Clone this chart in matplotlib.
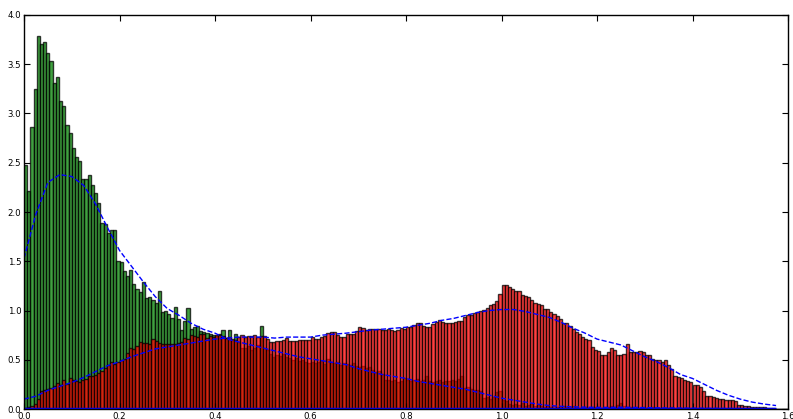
import numpy as np
import matplotlib
matplotlib.use("Agg")
import matplotlib.pyplot as plt

# histogram heights (density), 240 equal bins on [0, 1.6]
green_density = [
    2.48, 2.21, 2.86, 3.25, 3.79, 3.71, 3.73, 3.61, 3.53, 3.31,
    3.37, 3.13, 3.08, 2.88, 2.80, 2.65, 2.56, 2.52, 2.33, 2.34,
    2.38, 2.27, 2.19, 2.09, 1.89, 1.88, 1.79, 1.82, 1.82, 1.50,
    1.49, 1.40, 1.35, 1.41, 1.27, 1.22, 1.19, 1.29, 1.13, 1.14,
    1.11, 1.08, 1.20, 0.98, 0.99, 0.96, 0.92, 1.04, 0.91, 0.80,
    0.89, 1.03, 0.81, 0.83, 0.84, 0.79, 0.78, 0.77, 0.76, 0.75,
    0.74, 0.76, 0.80, 0.72, 0.80, 0.70, 0.76, 0.68, 0.62, 0.62,
    0.64, 0.60, 0.62, 0.65, 0.84, 0.62, 0.60, 0.56, 0.53, 0.55,
    0.54, 0.56, 0.53, 0.52, 0.50, 0.52, 0.49, 0.50, 0.48, 0.47,
    0.48, 0.47, 0.48, 0.49, 0.46, 0.51, 0.48, 0.47, 0.48, 0.45,
    0.47, 0.46, 0.45, 0.47, 0.44, 0.43, 0.44, 0.42, 0.43, 0.40,
    0.38, 0.39, 0.36, 0.29, 0.29, 0.28, 0.29, 0.27, 0.28, 0.31,
    0.29, 0.28, 0.29, 0.30, 0.28, 0.29, 0.33, 0.28, 0.27, 0.28,
    0.29, 0.27, 0.28, 0.28, 0.29, 0.28, 0.30, 0.33, 0.21, 0.22,
    0.20, 0.19, 0.19, 0.18, 0.11, 0.12, 0.10, 0.12, 0.17, 0.18,
    0.09, 0.08, 0.05, 0.04, 0.05, 0.04, 0.06, 0.03, 0.04, 0.05,
    0.03, 0.04, 0.03, 0.02, 0.03, 0.02, 0.03, 0.02, 0.02, 0.03,
    0.02, 0.02, 0.03, 0.02, 0.01, 0.02, 0.02, 0.01, 0.02, 0.02,
    0.02, 0.01, 0.02, 0.02, 0.03, 0.02, 0.04, 0.06, 0.03, 0.02,
    0.02, 0.01, 0.02, 0.01, 0.02, 0.01, 0.01, 0.02, 0.01, 0.01,
    0.01, 0.01, 0.01, 0.02, 0.01, 0.01, 0.01, 0.01, 0.00, 0.01,
    0.01, 0.00, 0.01, 0.00, 0.01, 0.00, 0.00, 0.01, 0.00, 0.00,
    0.00, 0.00, 0.00, 0.00, 0.00, 0.00, 0.00, 0.00, 0.00, 0.00,
    0.00, 0.00, 0.00, 0.00, 0.00, 0.00, 0.00, 0.00, 0.00, 0.00,
]

red_density = [
    0.01, 0.02, 0.03, 0.05, 0.10, 0.18, 0.19, 0.20, 0.21, 0.23,
    0.26, 0.24, 0.29, 0.25, 0.31, 0.29, 0.28, 0.27, 0.29, 0.30,
    0.33, 0.33, 0.35, 0.37, 0.39, 0.42, 0.45, 0.48, 0.46, 0.48,
    0.50, 0.51, 0.57, 0.62, 0.61, 0.64, 0.68, 0.67, 0.67, 0.66,
    0.71, 0.69, 0.67, 0.66, 0.66, 0.66, 0.66, 0.66, 0.67, 0.68,
    0.72, 0.71, 0.75, 0.74, 0.73, 0.76, 0.76, 0.72, 0.74, 0.73,
    0.75, 0.75, 0.74, 0.72, 0.73, 0.71, 0.70, 0.73, 0.75, 0.73,
    0.74, 0.74, 0.75, 0.73, 0.74, 0.74, 0.71, 0.68, 0.68, 0.69,
    0.69, 0.70, 0.72, 0.69, 0.69, 0.69, 0.70, 0.70, 0.70, 0.70,
    0.73, 0.71, 0.71, 0.73, 0.74, 0.77, 0.78, 0.78, 0.75, 0.73,
    0.73, 0.76, 0.76, 0.76, 0.79, 0.83, 0.82, 0.80, 0.81, 0.81,
    0.81, 0.81, 0.80, 0.80, 0.81, 0.80, 0.79, 0.80, 0.82, 0.81,
    0.83, 0.83, 0.85, 0.87, 0.87, 0.84, 0.83, 0.83, 0.86, 0.88,
    0.90, 0.88, 0.87, 0.87, 0.87, 0.88, 0.89, 0.89, 0.93, 0.95,
    0.95, 0.97, 0.98, 0.99, 1.01, 1.03, 1.06, 1.07, 1.10, 1.17,
    1.26, 1.26, 1.24, 1.22, 1.20, 1.20, 1.16, 1.15, 1.14, 1.11,
    1.08, 1.07, 1.06, 1.02, 1.02, 0.98, 0.96, 0.94, 0.91, 0.87,
    0.87, 0.84, 0.81, 0.785, 0.76, 0.73, 0.71, 0.70, 0.63, 0.60,
    0.59, 0.55, 0.55, 0.58, 0.62, 0.60, 0.55, 0.55, 0.56, 0.66,
    0.58, 0.58, 0.58, 0.59, 0.58, 0.55, 0.55, 0.51, 0.50, 0.50,
    0.48, 0.50, 0.45, 0.41, 0.33, 0.32, 0.31, 0.29, 0.28, 0.27,
    0.24, 0.24, 0.22, 0.18, 0.13, 0.13, 0.12, 0.11, 0.10, 0.10,
    0.09, 0.09, 0.09, 0.085, 0.04, 0.04, 0.03, 0.03, 0.025, 0.025,
    0.02, 0.02, 0.02, 0.015, 0.015, 0.01, 0.00, 0.00, 0.00, 0.00,
]

# smoothed density estimates, sampled every 0.025
kde_x = [round(0.025 * k, 3) for k in range(64)]
green_kde = [
    1.53, 1.98, 2.30, 2.38, 2.36, 2.27, 2.08, 1.84, 1.61, 1.45,
    1.29, 1.14, 1.02, 0.95, 0.87, 0.81, 0.77, 0.71, 0.68, 0.65,
    0.62, 0.59, 0.56, 0.53, 0.51, 0.49, 0.47, 0.45, 0.41, 0.38,
    0.35, 0.33, 0.31, 0.28, 0.26, 0.24, 0.22, 0.20, 0.17, 0.14,
    0.11, 0.09, 0.07, 0.05, 0.035, 0.027, 0.022, 0.018, 0.016, 0.016,
    0.018, 0.016, 0.014, 0.012, 0.010, 0.009, 0.008, 0.007, 0.006, 0.005,
    0.004, 0.003, 0.002, 0.002,
]
red_kde = [
    0.10, 0.13, 0.19, 0.23, 0.27, 0.32, 0.38, 0.44, 0.48, 0.53,
    0.57, 0.61, 0.63, 0.65, 0.67, 0.69, 0.71, 0.72, 0.73, 0.73,
    0.73, 0.72, 0.73, 0.73, 0.73, 0.75, 0.76, 0.77, 0.785, 0.80,
    0.81, 0.82, 0.83, 0.85, 0.87, 0.90, 0.92, 0.95, 0.98, 1.00,
    1.01, 1.01, 0.99, 0.96, 0.93, 0.88, 0.82, 0.77, 0.71, 0.68,
    0.65, 0.59, 0.53, 0.48, 0.42, 0.35, 0.31, 0.25, 0.19, 0.14,
    0.10, 0.07, 0.05, 0.035,
]

x_ticks = [0.0, 0.2, 0.4, 0.6, 0.8, 1.0, 1.2, 1.4, 1.6]
y_ticks = [0.0, 0.5, 1.0, 1.5, 2.0, 2.5, 3.0, 3.5, 4.0]

edges = np.linspace(0.0, 1.6, len(green_density) + 1)
bin_w = edges[1] - edges[0]

fig = plt.figure(figsize=(7.93, 4.19), dpi=100, facecolor="white")
ax = fig.add_axes([24 / 793, 10 / 419, 764 / 793, 394 / 419])

ax.bar(edges[:-1], green_density, width=bin_w, align="edge",
       color="g", alpha=0.75, edgecolor="k", linewidth=1.0)
ax.bar(edges[:-1], red_density, width=bin_w, align="edge",
       color="r", alpha=0.75, edgecolor="k", linewidth=1.0)

ax.plot(kde_x, green_kde, "b--", lw=1.0)
ax.plot(kde_x, red_kde, "b--", lw=1.0)
ax.hlines(0.0, kde_x[0], kde_x[-1], colors="b", lw=2.5)

ax.set_xlim(0.0, 1.6)
ax.set_ylim(0.0, 4.0)
ax.set_xticks(x_ticks)
ax.set_yticks(y_ticks)
ax.set_xticklabels([f"{v:.1f}" for v in x_ticks])
ax.set_yticklabels([f"{v:.1f}" for v in y_ticks])
ax.tick_params(direction="in", length=4, width=0.8, labelsize=6.2,
               top=True, right=True, pad=2)
for s in ax.spines.values():
    s.set_linewidth(1.0)

fig.savefig("out.png", dpi=100, facecolor="white")
